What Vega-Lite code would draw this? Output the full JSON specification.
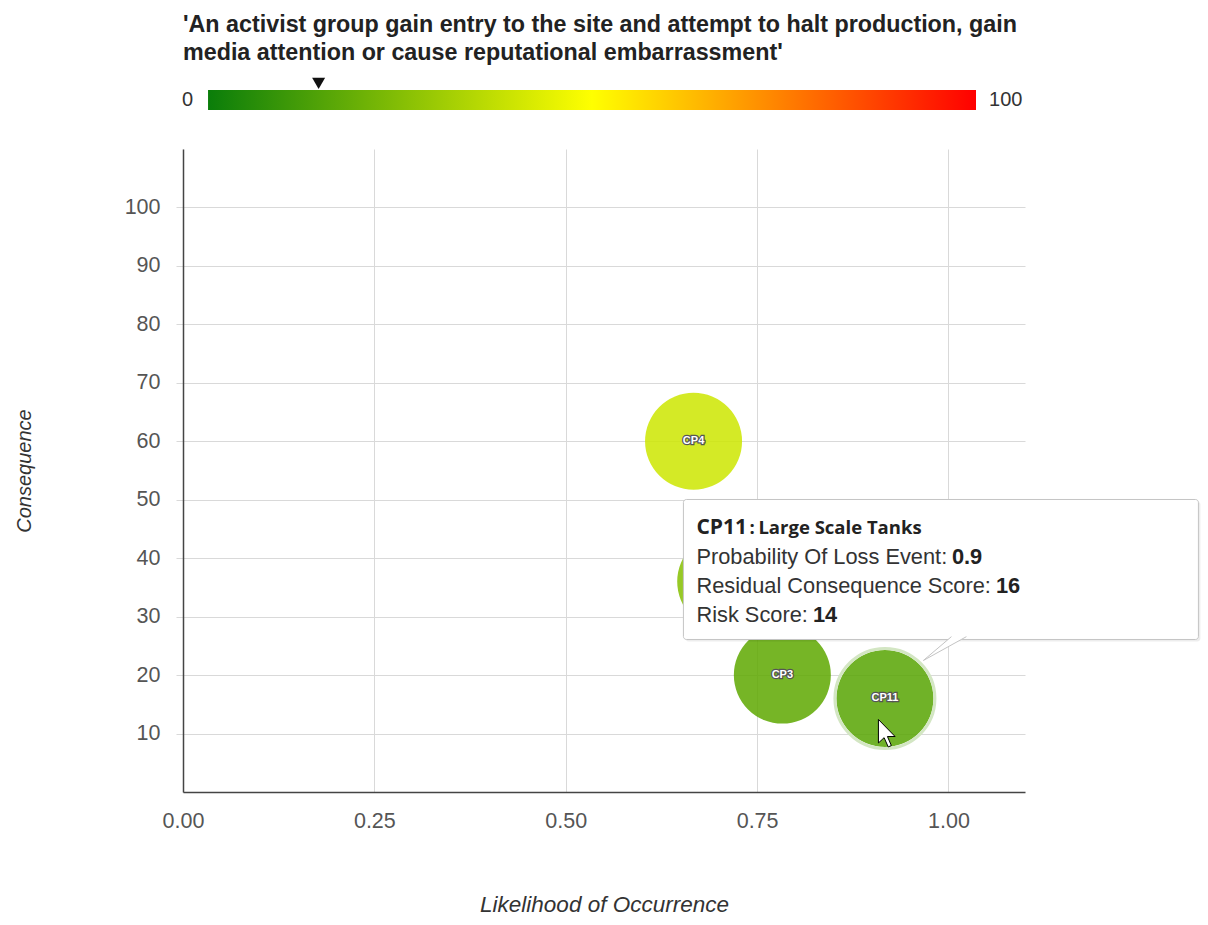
{
  "$schema": "https://vega.github.io/schema/vega-lite/v6.json",
  "padding": {"left": 14, "top": 13, "right": 2, "bottom": 2},
  "background": "white",
  "config": {"font": "Liberation Sans", "view": {"stroke": null}, "concat": {"spacing": 39}},
  "datasets": {
    "points": [
      {"code": "CP4", "likelihood": 0.667, "consequence": 60, "risk": 40},
      {"code": "CP5", "likelihood": 0.709, "consequence": 36, "risk": 25},
      {"code": "CP3", "likelihood": 0.783, "consequence": 20, "risk": 16},
      {"code": "CP11", "likelihood": 0.917, "consequence": 16, "risk": 14.4, "name": "Large Scale Tanks", "probability": 0.9}
    ],
    "scaleEnds": [
      {"value": 0, "label": "0"},
      {"value": 100, "label": "100"}
    ],
    "scaleBar": [{"low": 0, "high": 100}]
  },
  "vconcat": [
    {
      "width": 842,
      "height": 20,
      "title": {
        "text": ["'An activist group gain entry to the site and attempt to halt production, gain", "media attention or cause reputational embarrassment'"],
        "anchor": "start",
        "frame": "group",
        "fontSize": 23.3,
        "fontWeight": "bold",
        "font": "Liberation Sans",
        "color": "#222",
        "lineHeight": 28,
        "offset": 12
      },
      "layer": [
        {
          "data": {"name": "scaleBar"},
          "mark": {
            "type": "rect",
            "color": {
              "gradient": "linear", "x1": 0, "x2": 1, "y1": 0, "y2": 0,
              "stops": [
                {"offset": 0, "color": "#0a7d0a"},
                {"offset": 0.5, "color": "#ffff00"},
                {"offset": 1, "color": "#ff0000"}
              ]
            }
          },
          "encoding": {
            "x": {"field": "low", "type": "quantitative", "scale": {"domain": [-3.26, 106.38], "nice": false, "zero": false}, "axis": null},
            "x2": {"field": "high"}
          }
        },
        {
          "data": {"name": "points"},
          "transform": [{"filter": "datum.code === 'CP11'"}],
          "mark": {"type": "point", "shape": "triangle-down", "size": 169, "filled": true, "color": "#111", "opacity": 1, "yOffset": -16.7},
          "encoding": {
            "x": {"field": "risk", "type": "quantitative"}
          }
        },
        {
          "data": {"name": "scaleEnds"},
          "transform": [{"filter": "datum.value === 0"}],
          "mark": {"type": "text", "align": "right", "baseline": "middle", "dx": -15, "fontSize": 20, "color": "#333"},
          "encoding": {
            "x": {"field": "value", "type": "quantitative"},
            "text": {"field": "label"}
          }
        },
        {
          "data": {"name": "scaleEnds"},
          "transform": [{"filter": "datum.value === 100"}],
          "mark": {"type": "text", "align": "left", "baseline": "middle", "dx": 13, "fontSize": 20, "color": "#333"},
          "encoding": {
            "x": {"field": "value", "type": "quantitative"},
            "text": {"field": "label"}
          }
        }
      ]
    },
    {
      "width": 842,
      "height": 643,
      "data": {"name": "points"},
      "encoding": {
        "x": {
          "field": "likelihood", "type": "quantitative",
          "scale": {"domain": [0, 1.1], "nice": false, "zero": false},
          "title": "Likelihood of Occurrence",
          "axis": {
            "values": [0, 0.25, 0.5, 0.75, 1], "format": ".2f", "grid": true, "gridColor": "#d9d9d9",
            "domainColor": "#444", "domainWidth": 1.5, "ticks": false, "labelFlush": false,
            "labelFontSize": 21.5, "labelColor": "#555", "labelPadding": 18,
            "titleFontSize": 22.5, "titleFontStyle": "italic", "titleFontWeight": "normal", "titleColor": "#333", "titlePadding": 62
          }
        },
        "y": {
          "field": "consequence", "type": "quantitative",
          "scale": {"domain": [0, 110], "nice": false, "zero": false},
          "title": "Consequence",
          "axis": {
            "values": [10, 20, 30, 40, 50, 60, 70, 80, 90, 100], "grid": true, "gridColor": "#d9d9d9",
            "domainColor": "#444", "domainWidth": 1.5, "ticks": true, "tickColor": "#d9d9d9", "tickSize": 7,
            "labelFontSize": 21.5, "labelColor": "#555", "labelPadding": 16,
            "titleFontSize": 20, "titleFontStyle": "italic", "titleFontWeight": "normal", "titleColor": "#333", "titlePadding": 90
          }
        }
      },
      "layer": [
        {
          "mark": {"type": "circle", "size": 9409, "opacity": 1, "fillOpacity": 0.85},
          "encoding": {
            "color": {
              "field": "risk", "type": "quantitative",
              "scale": {"domain": [0, 50, 100], "range": ["#0a7d0a", "#ffff00", "#ff0000"]},
              "legend": null
            }
          }
        },
        {
          "transform": [{"filter": "datum.code === 'CP11'"}],
          "mark": {"type": "point", "filled": false, "size": 10000, "stroke": "#d3e6c3", "strokeWidth": 3, "opacity": 1}
        },
        {
          "transform": [{"filter": "datum.code !== 'CP5'"}],
          "mark": {"type": "text", "fontSize": 11, "fontWeight": "bold", "baseline": "middle", "align": "center", "stroke": "#555", "strokeWidth": 2.5, "fill": "#555"},
          "encoding": {"text": {"field": "code"}}
        },
        {
          "transform": [{"filter": "datum.code !== 'CP5'"}],
          "mark": {"type": "text", "fontSize": 11, "fontWeight": "bold", "baseline": "middle", "align": "center", "fill": "#ffffff"},
          "encoding": {"text": {"field": "code"}}
        },
        {
          "transform": [{"filter": "datum.code === 'CP11'"}],
          "mark": {"type": "rect", "width": 515, "height": 140, "xOffset": 58, "yOffset": -127, "fill": "#000000", "opacity": 0.07, "cornerRadius": 3}
        },
        {
          "transform": [{"filter": "datum.code === 'CP11'"}],
          "mark": {"type": "rect", "width": 515, "height": 140, "xOffset": 56, "yOffset": -129, "fill": "#ffffff", "stroke": "#c4c4c4", "strokeWidth": 1, "opacity": 1, "cornerRadius": 3}
        },
        {
          "transform": [{"filter": "datum.code === 'CP11'"}],
          "mark": {"type": "point", "shape": "M0.302,-0.62L-1,0.488L1,-0.62", "size": 1849, "xOffset": 60, "yOffset": -48.5, "fill": "#ffffff", "filled": true, "stroke": "#c4c4c4", "strokeWidth": 1, "opacity": 1}
        },
        {
          "transform": [{"filter": "datum.code === 'CP11'"}],
          "mark": {"type": "text", "font": "Open Sans", "fontSize": 21, "fontWeight": "bold", "align": "left", "baseline": "alphabetic", "dx": -188.5, "dy": -164, "color": "#222"},
          "encoding": {"text": {"field": "code"}}
        },
        {
          "transform": [{"filter": "datum.code === 'CP11'"}],
          "mark": {"type": "text", "font": "Open Sans", "fontSize": 18.5, "fontWeight": "bold", "align": "left", "baseline": "alphabetic", "dx": -135.5, "dy": -164, "color": "#222", "text": ":"}
        },
        {
          "transform": [{"filter": "datum.code === 'CP11'"}],
          "mark": {"type": "text", "font": "Open Sans", "fontSize": 18.5, "fontWeight": "bold", "align": "left", "baseline": "alphabetic", "dx": -126.5, "dy": -164, "color": "#222"},
          "encoding": {"text": {"field": "name"}}
        },
        {
          "transform": [{"filter": "datum.code === 'CP11'"}],
          "mark": {"type": "text", "fontSize": 21.8, "align": "left", "baseline": "alphabetic", "dx": -188.5, "dy": -134, "color": "#333", "text": "Probability Of Loss Event:"}
        },
        {
          "transform": [{"filter": "datum.code === 'CP11'"}],
          "mark": {"type": "text", "fontSize": 21.8, "fontWeight": "bold", "align": "left", "baseline": "alphabetic", "dx": 67, "dy": -134, "color": "#222"},
          "encoding": {"text": {"field": "probability", "type": "quantitative", "format": ".1f"}}
        },
        {
          "transform": [{"filter": "datum.code === 'CP11'"}],
          "mark": {"type": "text", "fontSize": 21.8, "align": "left", "baseline": "alphabetic", "dx": -188.5, "dy": -105, "color": "#333", "text": "Residual Consequence Score:"}
        },
        {
          "transform": [{"filter": "datum.code === 'CP11'"}],
          "mark": {"type": "text", "fontSize": 21.8, "fontWeight": "bold", "align": "left", "baseline": "alphabetic", "dx": 111, "dy": -105, "color": "#222"},
          "encoding": {"text": {"field": "consequence", "type": "quantitative", "format": ".0f"}}
        },
        {
          "transform": [{"filter": "datum.code === 'CP11'"}],
          "mark": {"type": "text", "fontSize": 21.8, "align": "left", "baseline": "alphabetic", "dx": -188.5, "dy": -76, "color": "#333", "text": "Risk Score:"}
        },
        {
          "transform": [{"filter": "datum.code === 'CP11'"}],
          "mark": {"type": "text", "fontSize": 21.8, "fontWeight": "bold", "align": "left", "baseline": "alphabetic", "dx": -72, "dy": -76, "color": "#222"},
          "encoding": {"text": {"field": "risk", "type": "quantitative", "format": ".0f"}}
        },
        {
          "transform": [{"filter": "datum.code === 'CP11'"}],
          "mark": {"type": "point", "shape": "M0,0L0,1.2L0.29,0.93L0.5,1.4L0.66,1.33L0.46,0.87L0.85,0.87Z", "size": 1537, "xOffset": -6.5, "yOffset": 21, "fill": "#ffffff", "filled": true, "stroke": "#000000", "strokeWidth": 1, "opacity": 1}
        }
      ]
    }
  ]
}
